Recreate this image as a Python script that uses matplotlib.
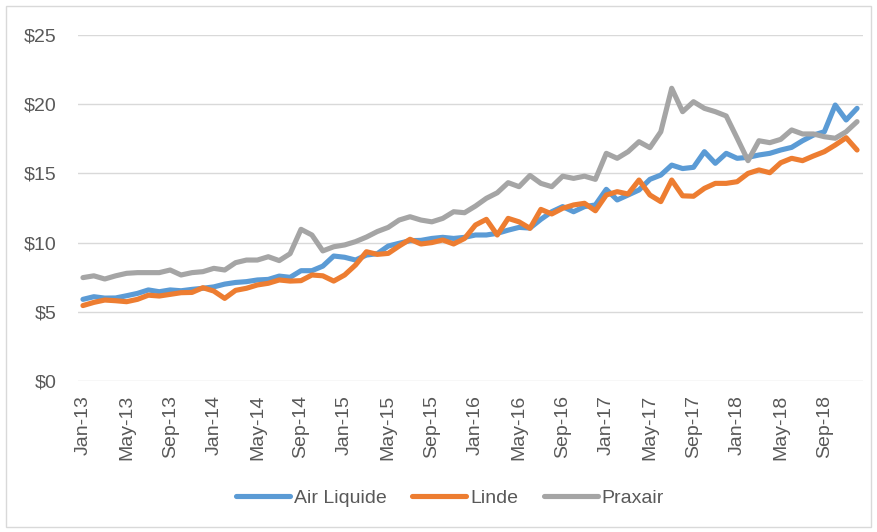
import numpy as np
import pandas as pd
import matplotlib
matplotlib.use("Agg")
import matplotlib.pyplot as plt
from matplotlib.patches import Rectangle

# =============================================================================
# COLOURS
# =============================================================================

BLUE = "#5B9BD5"      # Air Liquide
ORANGE = "#ED7D31"    # Linde
GREY = "#A5A5A5"      # Praxair
GRID = "#D9D9D9"
TEXT = "#595959"

plt.rcParams["font.family"] = ["Liberation Sans", "DejaVu Sans"]

# =============================================================================
# DATA (monthly, Jan-13 .. Dec-18)
# =============================================================================

months = pd.date_range("2013-01-01", periods=72, freq="MS").strftime("%b-%y").tolist()

air_liquide = [
    5.90, 6.09, 5.99, 6.00, 6.16, 6.33, 6.58, 6.45, 6.58, 6.52, 6.62, 6.70,
    6.80, 7.00, 7.12, 7.18, 7.30, 7.34, 7.58, 7.49, 7.97, 7.97, 8.30, 9.03,
    8.94, 8.74, 9.10, 9.20, 9.75, 9.95, 10.14, 10.16, 10.30, 10.38, 10.30, 10.38,
    10.55, 10.55, 10.67, 10.90, 11.10, 11.05, 11.68, 12.23, 12.60, 12.23, 12.60, 12.72,
    13.85, 13.08, 13.44, 13.80, 14.57, 14.88, 15.60, 15.35, 15.44, 16.57, 15.73, 16.45,
    16.09, 16.16, 16.33, 16.45, 16.69, 16.88, 17.36, 17.77, 18.01, 19.94, 18.86, 19.70,
]

linde = [
    5.45, 5.68, 5.85, 5.80, 5.73, 5.90, 6.20, 6.14, 6.26, 6.38, 6.40, 6.74,
    6.50, 5.97, 6.55, 6.70, 6.94, 7.06, 7.30, 7.22, 7.25, 7.66, 7.60, 7.22,
    7.66, 8.38, 9.34, 9.15, 9.22, 9.75, 10.24, 9.90, 10.00, 10.19, 9.90, 10.30,
    11.27, 11.68, 10.55, 11.75, 11.50, 11.03, 12.40, 12.07, 12.48, 12.72, 12.84, 12.30,
    13.44, 13.68, 13.51, 14.52, 13.44, 12.96, 14.52, 13.38, 13.35, 13.92, 14.28, 14.28,
    14.40, 15.00, 15.25, 15.05, 15.77, 16.09, 15.92, 16.26, 16.57, 17.05, 17.58, 16.69,
]

praxair = [
    7.47, 7.60, 7.37, 7.60, 7.78, 7.83, 7.83, 7.83, 8.02, 7.66, 7.83, 7.90,
    8.14, 8.02, 8.55, 8.74, 8.74, 8.98, 8.70, 9.20, 10.96, 10.55, 9.40, 9.70,
    9.83, 10.07, 10.40, 10.80, 11.10, 11.63, 11.87, 11.63, 11.50, 11.75, 12.23, 12.16,
    12.64, 13.20, 13.60, 14.33, 14.04, 14.85, 14.28, 14.04, 14.80, 14.64, 14.80, 14.57,
    16.45, 16.09, 16.57, 17.29, 16.86, 18.01, 21.15, 19.46, 20.18, 19.70, 19.46, 19.15,
    17.55, 15.92, 17.36, 17.22, 17.46, 18.14, 17.85, 17.85, 17.65, 17.54, 18.01, 18.74,
]

series = [("Air Liquide", air_liquide, BLUE),
          ("Linde", linde, ORANGE),
          ("Praxair", praxair, GREY)]

# =============================================================================
# PLOT
# =============================================================================

W, H = 877, 532
fig = plt.figure(figsize=(W / 100, H / 100), dpi=100)
fig.patch.set_facecolor("white")

# chart border
fig.add_artist(Rectangle((6 / W, 5 / H), (W - 12) / W, (H - 11) / H,
                         transform=fig.transFigure, fill=False,
                         edgecolor=GRID, linewidth=1))

ax = fig.add_axes([77.5 / W, (H - 381) / H, 785 / W, 346 / H])

x = np.arange(len(months))
for naam, waarden, kleur in series:
    ax.plot(x, waarden, color=kleur, linewidth=3.7, label=naam,
            solid_joinstyle="round", solid_capstyle="round")

ax.set_xlim(-0.5, len(months) - 0.5)
ax.set_ylim(0, 25)
ax.set_yticks(np.arange(0, 26, 5))
ax.set_yticklabels([f"${v}" for v in range(0, 26, 5)])
ax.set_xticks(x[::4])
ax.set_xticklabels(months[::4], rotation=90)

ax.tick_params(axis="both", length=0, labelsize=14, labelcolor=TEXT)
ax.tick_params(axis="y", pad=15)
ax.tick_params(axis="x", pad=10)

ax.grid(axis="y", color=GRID, linewidth=1)
ax.set_axisbelow(True)
for spine in ax.spines.values():
    spine.set_visible(False)

fig.legend(loc="center", bbox_to_anchor=(0.513, 0.064), ncol=3, frameon=False,
           fontsize=14, labelcolor=TEXT, handlelength=2.8, handletextpad=0.2,
           columnspacing=1.3)

plt.savefig("out.png", dpi=100, facecolor="white")
plt.close()
